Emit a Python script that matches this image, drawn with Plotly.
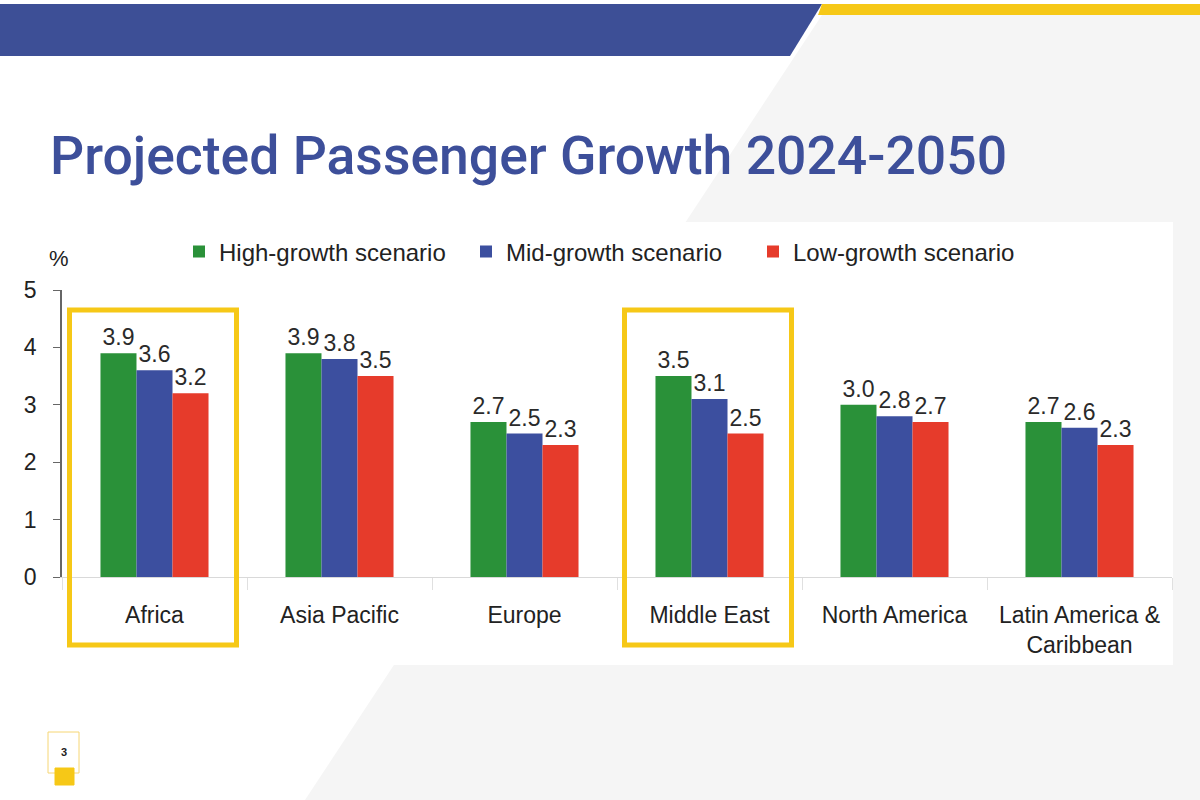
import plotly.graph_objects as go

regions = ["Africa", "Asia Pacific", "Europe", "Middle East", "North America", "Latin America &<br>Caribbean"]
high_growth = [3.9, 3.9, 2.7, 3.5, 3.0, 2.7]
mid_growth = [3.6, 3.8, 2.5, 3.1, 2.8, 2.6]
low_growth = [3.2, 3.5, 2.3, 2.5, 2.7, 2.3]
series_names = ["High-growth scenario", "Mid-growth scenario", "Low-growth scenario"]
series_colors = ["#2a9139", "#3c4f9f", "#e63b2b"]
highlighted = ["Africa", "Middle East"]
title_text = "Projected Passenger Growth 2024-2050"

W, H = 1200, 800
L, R, T, B = 62, 1172, 290, 577  # plot area in pixels
FONT = "Liberation Sans, Arial"


def px(x):
    return (x - L) / (R - L)


def py(y):
    return (B - y) / (B - T)


fig = go.Figure()
for name, vals, col in zip(series_names, [high_growth, mid_growth, low_growth], series_colors):
    fig.add_trace(go.Bar(
        x=regions, y=vals, name=name, marker=dict(color=col, line=dict(width=0)),
        texttemplate="%{y:.1f}", textposition="outside",
        textfont=dict(size=23, color="#2a2a2a", family=FONT),
        cliponaxis=False,
    ))

shapes = []
# slide background: light grey diagonal panel on the right
shapes.append(dict(type="path", xref="paper", yref="paper", layer="below",
                   path=f"M {px(822)} {py(15)} L {px(1200)} {py(15)} L {px(1200)} {py(800)} L {px(305)} {py(800)} Z",
                   fillcolor="#f5f5f5", line=dict(width=0)))
# white chart panel
shapes.append(dict(type="rect", xref="paper", yref="paper", layer="below",
                   x0=px(40), x1=px(1173), y0=py(665), y1=py(222),
                   fillcolor="#ffffff", line=dict(width=0)))
# banner
shapes.append(dict(type="path", xref="paper", yref="paper", layer="above",
                   path=f"M {px(0)} {py(4)} L {px(822)} {py(4)} L {px(790)} {py(56)} L {px(0)} {py(56)} Z",
                   fillcolor="#3d4f96", line=dict(width=0)))
shapes.append(dict(type="path", xref="paper", yref="paper", layer="above",
                   path=f"M {px(822)} {py(4)} L {px(1200)} {py(4)} L {px(1200)} {py(15)} L {px(818)} {py(15)} Z",
                   fillcolor="#f6c817", line=dict(width=0)))
# highlight boxes around selected categories
cat_w = (R - L) / len(regions)
for reg in highlighted:
    i = regions.index(reg)
    c = L + cat_w * (i + 0.5)
    shapes.append(dict(type="rect", xref="paper", yref="paper", layer="above",
                       x0=px(c - 85), x1=px(c + 82), y0=py(645), y1=py(310),
                       line=dict(color="#f6c817", width=5), fillcolor="rgba(0,0,0,0)"))
# page number marker
shapes.append(dict(type="rect", xref="paper", yref="paper", layer="above",
                   x0=px(48), x1=px(79), y0=py(773), y1=py(732),
                   line=dict(color="#f6d675", width=1), fillcolor="#ffffff"))
shapes.append(dict(type="rect", xref="paper", yref="paper", layer="above",
                   x0=px(55), x1=px(74), y0=py(785), y1=py(768),
                   line=dict(color="#f6c817", width=1), fillcolor="#f6c817"))

annotations = [
    dict(text=title_text, xref="paper", yref="paper", x=px(48), y=py(155),
         xanchor="left", yanchor="middle", showarrow=False,
         font=dict(size=53.5, color="#3d4f9a", family="Roboto, Arial", weight=500)),
    dict(text="%", xref="paper", yref="paper", x=px(59), y=py(258),
         xanchor="center", yanchor="middle", showarrow=False,
         font=dict(size=22, color="#222222", family=FONT)),
    dict(text="<b>3</b>", xref="paper", yref="paper", x=px(63.5), y=py(752),
         xanchor="center", yanchor="middle", showarrow=False,
         font=dict(size=11, color="#222222", family=FONT)),
]

fig.update_layout(
    width=W, height=H,
    margin=dict(l=L, r=W - R, t=T, b=H - B, pad=0),
    paper_bgcolor="#ffffff", plot_bgcolor="rgba(0,0,0,0)",
    barmode="group", bargap=0.416, bargroupgap=0,
    font=dict(family=FONT, color="#222222"),
    showlegend=True,
    legend=dict(orientation="h", x=px(179), y=py(252), xanchor="left", yanchor="middle",
                font=dict(size=24, color="#222222"), entrywidth=242, entrywidthmode="pixels",
                bgcolor="rgba(0,0,0,0)", itemclick=False, traceorder="normal"),
    shapes=shapes, annotations=annotations,
    xaxis=dict(showline=True, linecolor="#d9d9d9", linewidth=1, ticks="outside",
               tickson="boundaries", ticklen=12, tickcolor="#e0e0e0",
               tickfont=dict(size=23, color="#222222"), ticklabelstandoff=17,
               showgrid=False, zeroline=False),
    yaxis=dict(range=[0, 5], dtick=1, showline=True, linecolor="#666666", linewidth=1.5,
               ticks="outside", ticklen=7, tickcolor="#666666",
               tickfont=dict(size=23, color="#222222"), ticklabelstandoff=12,
               showgrid=False, zeroline=False),
)

fig.write_html("out.html")
